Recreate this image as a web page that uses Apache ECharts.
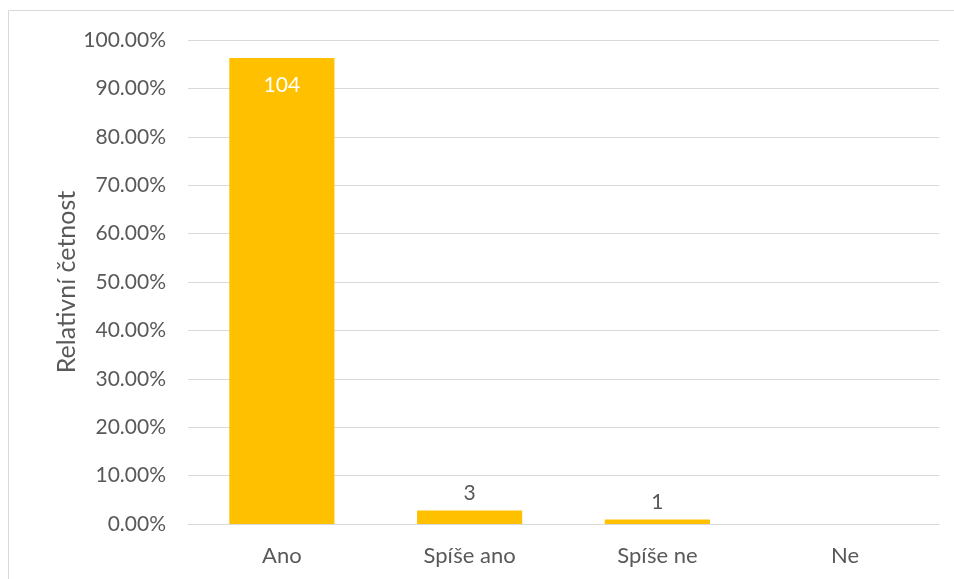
<!DOCTYPE html>
<html>
<head>
<meta charset="utf-8">
<script src="https://cdn.jsdelivr.net/npm/echarts@6/dist/echarts.min.js"></script>
<style>
  html, body { margin: 0; padding: 0; background: #fff; }
  #chart { width: 954px; height: 579px; }
</style>
</head>
<body>
<div id="chart"></div>
<script>
// Odpovědi a počty respondentů
const categories = ['Ano', 'Spíše ano', 'Spíše ne', 'Ne'];
const counts = [104, 3, 1, 0];
const yTicks = [0, 10, 20, 30, 40, 50, 60, 70, 80, 90, 100];

const total = counts.reduce((a, b) => a + b, 0);
const textColor = '#595959';
const fontFamily = 'Lato, "Open Sans", sans-serif';

const barData = counts.map((c, i) => ({
  value: c / total * 100,
  count: c,
  label: i === 0
    ? { show: true, position: 'insideTop', distance: 17, color: '#ffffff' }
    : { show: c > 0, position: 'top', distance: 7, color: textColor }
}));

const chart = echarts.init(document.getElementById('chart'), null, { renderer: 'canvas' });
chart.setOption({
  animation: false,
  textStyle: { fontFamily },
  graphic: [{
    type: 'rect',
    shape: { x: 8.5, y: 10.5, width: 1000, height: 700 },
    style: { fill: 'none', stroke: '#D9D9D9', lineWidth: 1 },
    silent: true
  }],
  grid: { left: 188, right: 15, top: 40, bottom: 55, containLabel: false },
  xAxis: {
    type: 'category',
    data: categories,
    axisLine: { show: true, lineStyle: { color: '#D9D9D9', width: 1 } },
    axisTick: { show: false },
    axisLabel: { color: textColor, fontSize: 22, margin: 21, fontFamily }
  },
  yAxis: {
    type: 'value',
    min: yTicks[0],
    max: yTicks[yTicks.length - 1],
    interval: 10,
    name: 'Relativní četnost',
    nameLocation: 'middle',
    nameGap: 109,
    nameMoveOverlap: false,
    nameRotate: 90,
    nameTextStyle: { color: textColor, fontSize: 25, fontFamily },
    axisLine: { show: false },
    axisTick: { show: false },
    axisLabel: {
      color: textColor, fontSize: 21, margin: 22, fontFamily,
      formatter: v => v.toFixed(2) + '%'
    },
    splitLine: { lineStyle: { color: '#D9D9D9', width: 1 } }
  },
  series: [{
    type: 'bar',
    data: barData,
    barCategoryGap: '44%',
    itemStyle: { color: '#FFC000' },
    label: {
      fontSize: 21,
      fontFamily,
      formatter: p => String(p.data.count)
    }
  }]
});
</script>
</body>
</html>
